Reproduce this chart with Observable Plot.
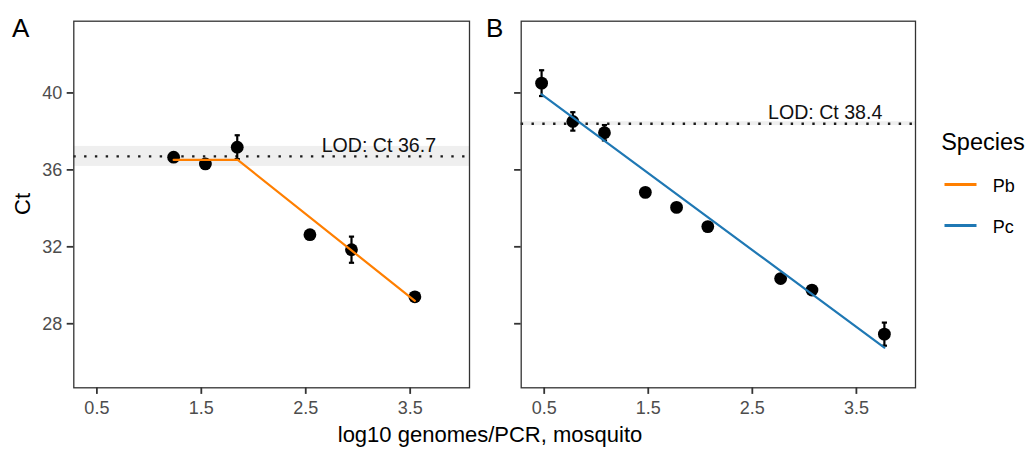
<!DOCTYPE html>
<html>
<head>
<meta charset="utf-8">
<script src="https://cdn.jsdelivr.net/npm/d3@7"></script>
<script src="https://cdn.jsdelivr.net/npm/@observablehq/plot@0.6"></script>
<style>
  html, body { margin: 0; padding: 0; background: #fff; }
  #wrap { position: relative; width: 1028px; height: 451px; overflow: hidden; background: #fff; font-family: "Liberation Sans", Arial, sans-serif; }
  .abs { position: absolute; top: 0; }
  #overlay { position: absolute; left: 0; top: 0; pointer-events: none; }
</style>
</head>
<body>
<div id="wrap">
  <div id="panelA" class="abs" style="left:0px;"></div>
  <div id="panelB" class="abs" style="left:480px;"></div>
  <div id="legend" class="abs" style="left:930px; top:120px;"></div>
</div>
<script>
// ---------- data ----------
const speciesNames = ["Pb", "Pc"];
const speciesColors = ["#ff7f00", "#1f78b4"];
const xTicks = [0.5, 1.5, 2.5, 3.5];
const yTicks = [28, 32, 36, 40];
const xDomain = [0.279, 4.068];
const yDomain = [24.67, 43.73];

// Panel A: Pb
const pbX   = [1.235, 1.539, 1.844, 2.540, 2.938, 3.545];
const pbCt  = [36.66, 36.31, 37.18, 32.63, 31.85, 29.40];
const pbErr = [0.15, 0.12, 0.62, 0.10, 0.68, 0.10];
const pbFitX  = [1.235, 1.849, 3.545];
const pbFitCt = [36.52, 36.52, 29.19];
const pbLod = 36.7;
const pbLodBand = [36.18, 37.22];

// Panel B: Pc
const pcX   = [0.475, 0.775, 1.079, 1.472, 1.772, 2.072, 2.772, 3.073, 3.769];
const pcCt  = [40.51, 38.52, 37.93, 34.83, 34.05, 33.05, 30.35, 29.75, 27.46];
const pcErr = [0.67, 0.48, 0.40, 0.10, 0.10, 0.20, 0.10, 0.15, 0.60];
const pcFitX  = [0.475, 3.769];
const pcFitCt = [39.92, 26.76];
const pcLod = 38.4;
const pcLodBand = [38.30, 38.50];

const lodLabelX = 3.2;

// ---------- build tables ----------
const pbPoints = pbX.map((x, i) => ({x, ct: pbCt[i], err: pbErr[i]}));
const pcPoints = pcX.map((x, i) => ({x, ct: pcCt[i], err: pcErr[i]}));
const pbFit = pbFitX.map((x, i) => ({x, ct: pbFitCt[i], species: "Pb"}));
const pcFit = pcFitX.map((x, i) => ({x, ct: pcFitCt[i], species: "Pc"}));

// horizontal-line symbol (for error-bar caps and legend keys)
const hSymbol = {
  draw(ctx, size) {
    const r = Math.sqrt(size / Math.PI);
    ctx.moveTo(-r, 0);
    ctx.lineTo(r, 0);
  }
};

const FONT = "'Liberation Sans', Arial, Helvetica, sans-serif";

function panel({points, fit, lod, band, showYLabels, width, marginLeft, marginRight}) {
  return Plot.plot({
    width, height: 451,
    marginLeft, marginRight, marginTop: 20.7, marginBottom: 63.7,
    x: {domain: xDomain},
    y: {domain: yDomain},
    color: {domain: speciesNames, range: speciesColors},
    style: {fontFamily: FONT, background: "transparent", overflow: "visible"},
    marks: [
      Plot.rect([band], {y1: d => d[0], y2: d => d[1], fill: "#efefef"}),
      Plot.ruleY([lod], {y: d => d, stroke: "#1a1a1a", strokeWidth: 2.4, strokeDasharray: "2.4,8.4"}),
      Plot.text([lod], {x: () => lodLabelX, y: d => d, text: d => `LOD: Ct ${d}`, lineAnchor: "bottom", dy: -4.5, fontSize: 19.6, fill: "#111"}),
      Plot.ruleX(points, {x: "x", y1: d => d.ct - d.err, y2: d => d.ct + d.err, stroke: "#000", strokeWidth: 2.2}),
      Plot.dot(points, {x: "x", y: d => d.ct + d.err, symbol: hSymbol, r: 2.6, fill: "none", stroke: "#000", strokeWidth: 2.2}),
      Plot.dot(points, {x: "x", y: d => d.ct - d.err, symbol: hSymbol, r: 2.6, fill: "none", stroke: "#000", strokeWidth: 2.2}),
      Plot.dot(points, {x: "x", y: "ct", r: 6.4, fill: "#000", stroke: "none"}),
      Plot.line(fit, {x: "x", y: "ct", stroke: "species", strokeWidth: 2.2}),
      Plot.axisX({ticks: xTicks, tickSize: 6.6, tickPadding: 7, fontSize: 18, fill: "#4d4d4d", stroke: "#333", strokeWidth: 1.8, label: null}),
      Plot.axisY({ticks: yTicks, tickSize: 6.6, tickPadding: 5, fontSize: 18, fill: "#4d4d4d", stroke: "#333", strokeWidth: 1.8, label: null,
                  tickFormat: showYLabels ? (d => String(d)) : (() => "")}),
      Plot.frame({stroke: "#333", strokeWidth: 1.3})
    ]
  });
}

document.getElementById("panelA").append(panel({
  points: pbPoints, fit: pbFit, lod: pbLod, band: pbLodBand, showYLabels: true,
  width: 480, marginLeft: 73.3, marginRight: 11
}));
document.getElementById("panelB").append(panel({
  points: pcPoints, fit: pcFit, lod: pcLod, band: pcLodBand, showYLabels: false,
  width: 440, marginLeft: 40.7, marginRight: 5
}));

// legend
document.getElementById("legend").append(Plot.plot({
  width: 98, height: 130, margin: 0,
  y: {type: "point", domain: speciesNames, range: [64, 105.3], padding: 0, axis: null},
  color: {domain: speciesNames, range: speciesColors},
  style: {fontFamily: FONT, background: "transparent", overflow: "visible"},
  marks: [
    Plot.text(["Species"], {frameAnchor: "top-left", text: d => d, dx: 10.7, dy: 29.3, lineAnchor: "bottom", textAnchor: "start", fontSize: 23.5, fill: "#000"}),
    Plot.dot(speciesNames, {y: d => d, frameAnchor: "left", dx: 30, symbol: hSymbol, r: 16, fill: "none", stroke: d => d, strokeWidth: 3.2}),
    Plot.text(speciesNames, {y: d => d, frameAnchor: "left", dx: 62.3, text: d => d, textAnchor: "start", fontSize: 18, dy: 1.5, fill: "#000"})
  ]
}));

// overlay titles
const ov = d3.select("#wrap").append("svg").attr("id", "overlay")
  .attr("width", 1028).attr("height", 451)
  .style("font-family", FONT);
ov.append("text").attr("x", 12).attr("y", 36.7).attr("font-size", 26).text("A");
ov.append("text").attr("x", 486).attr("y", 36.7).attr("font-size", 26).text("B");
ov.append("text").attr("transform", "translate(30,204) rotate(-90)")
  .attr("text-anchor", "middle").attr("font-size", 22).text("Ct");
ov.append("text").attr("x", 490).attr("y", 441.7).attr("text-anchor", "middle")
  .attr("font-size", 22).text("log10 genomes/PCR, mosquito");
</script>
</body>
</html>
